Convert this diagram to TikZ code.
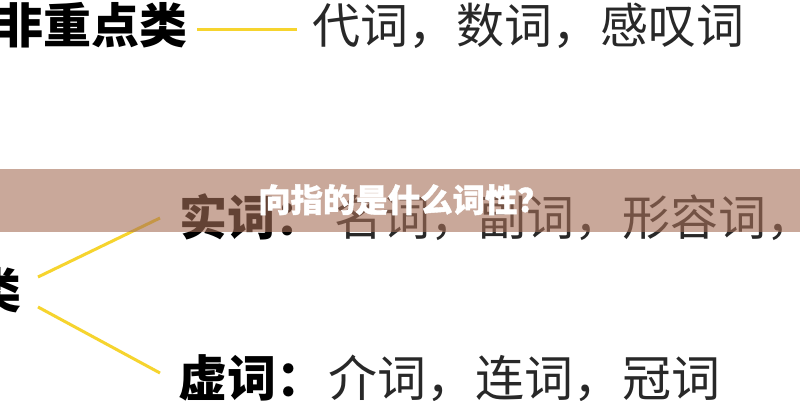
\documentclass[tikz,border=0pt]{standalone}
\usepackage{fontspec}
\setmainfont{Noto Sans CJK SC}
\newfontfamily\heavyfont[BoldFeatures={FakeBold=1.2}]{Noto Sans CJK SC}
\definecolor{ylw}{RGB}{246,212,46}
\definecolor{bandc}{RGB}{165,110,87}
\definecolor{txt}{RGB}{40,40,40}
\tikzset{
  big/.style={inner sep=0pt, anchor=base west, font=\fontsize{48}{48}\selectfont, text=txt},
  ybranch/.style={draw=ylw, line width=3pt},
}
\begin{document}
\begin{tikzpicture}[x=1pt,y=-1pt]
\useasboundingbox (0,0) rectangle (800,400);
\fill[white] (0,0) rectangle (800,400);
\clip (0,0) rectangle (800,400);
% top row
\node[big, text=black] (top) at (-5,43) {\bfseries 非重点类};
\node[big] (topr) at (312,43) {代词，数词，感叹词};
\coordinate (t1) at (197,29);
\coordinate (t2) at (297,29);
\draw[ybranch] (t1) -- (t2);
% left category (cut off)
\node[big, anchor=base east, text=black] (lei) at (22,308) {\bfseries 类};
\coordinate (s) at (38,277);
\coordinate (s2) at (38,307);
\coordinate (e1) at (160,218);
\coordinate (e2) at (160,373);
\draw[ybranch] (s) -- (e1);
\draw[ybranch] (s2) -- (e2);
% rows
\node[big] (shi) at (179,235) {{\bfseries\color{black}实词：}\hspace{11pt}名词，副词，形容词，};
\node[big, font=\fontsize{49}{49}\selectfont] (xu) at (178,396) {{\bfseries\color{black}虚词：}\hspace{3pt}介词，连词，冠词};
% band
\fill[bandc, fill opacity=0.6] (0,169) rectangle (800,232);
\node[inner sep=0pt, anchor=base west, text=white, font=\fontsize{32.4}{32.4}\selectfont\heavyfont\bfseries] (q) at (258,212) {向指的是什么词性？};
\end{tikzpicture}
\end{document}
